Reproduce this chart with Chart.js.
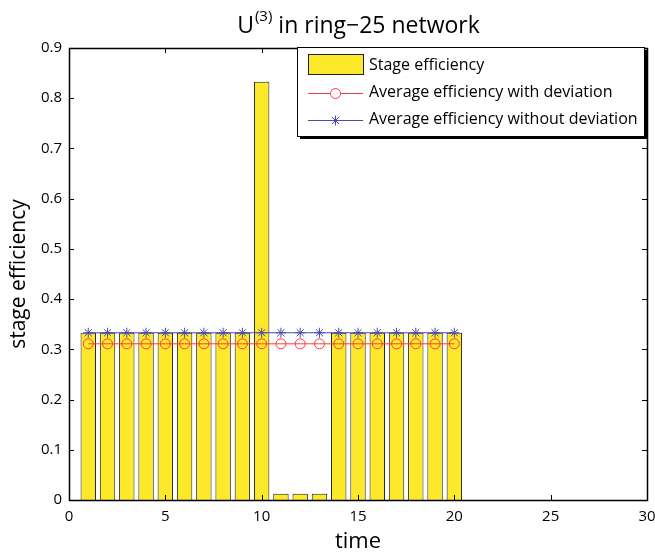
<!DOCTYPE html>
<html>
<head>
<meta charset="utf-8">
<script src="https://cdn.jsdelivr.net/npm/chart.js@4/dist/chart.umd.min.js"></script>
<style>
  body { margin: 0; background: #fff; }
  #wrap { width: 655px; height: 555px; }
</style>
</head>
<body>
<div id="wrap"><canvas id="chart" width="655" height="555"></canvas></div>
<script>
// --------------------------------------------------
//  DATA
// --------------------------------------------------
const times = [1, 2, 3, 4, 5, 6, 7, 8, 9, 10, 11, 12, 13, 14, 15, 16, 17, 18, 19, 20];
const stageEff = [0.333, 0.333, 0.333, 0.333, 0.333, 0.333, 0.333, 0.333, 0.333, 0.833,
                  0.0125, 0.0125, 0.0125, 0.333, 0.333, 0.333, 0.333, 0.333, 0.333, 0.333];
const avgWithDev = [0.311, 0.311, 0.311, 0.311, 0.311, 0.311, 0.311, 0.311, 0.311, 0.311,
                    0.311, 0.311, 0.311, 0.311, 0.311, 0.311, 0.311, 0.311, 0.311, 0.311];
const avgWithoutDev = [0.333, 0.333, 0.333, 0.333, 0.333, 0.333, 0.333, 0.333, 0.333, 0.333,
                       0.333, 0.333, 0.333, 0.333, 0.333, 0.333, 0.333, 0.333, 0.333, 0.333];
const xTicks = [0, 5, 10, 15, 20, 25, 30];
const yTicks = [0, 0.1, 0.2, 0.3, 0.4, 0.5, 0.6, 0.7, 0.8, 0.9];
const seriesNames = ['Stage efficiency', 'Average efficiency with deviation', 'Average efficiency without deviation'];

const FONT = '"Open Sans", sans-serif';
const YELLOW = '#fde92a';
const RED = '#ff3b3b';
const BLUE = '#4a4ab4';

function toPoints(xs, ys) {
    return xs.map((x, i) => ({ x: x, y: ys[i] }));
}

// --------------------------------------------------
//  PLUGINS: box + inward ticks, title, legend
// --------------------------------------------------
const boxPlugin = {
    id: 'box',
    afterDatasetsDraw(chart) {
        const { ctx, chartArea: a, scales } = chart;
        ctx.save();
        ctx.strokeStyle = '#000';
        ctx.lineWidth = 1;
        ctx.beginPath();
        xTicks.forEach(v => {
            const px = Math.round(scales.x.getPixelForValue(v)) + 0.5;
            ctx.moveTo(px, a.bottom); ctx.lineTo(px, a.bottom - 5);
            ctx.moveTo(px, a.top); ctx.lineTo(px, a.top + 5);
        });
        yTicks.forEach(v => {
            const py = Math.round(scales.y.getPixelForValue(v)) + 0.5;
            ctx.moveTo(a.left, py); ctx.lineTo(a.left + 5, py);
            ctx.moveTo(a.right, py); ctx.lineTo(a.right - 5, py);
        });
        ctx.stroke();
        ctx.lineWidth = 1.5;
        ctx.strokeRect(Math.round(a.left) + 0.5, Math.round(a.top) + 0.5,
                       Math.round(a.right - a.left), Math.round(a.bottom - a.top));
        ctx.restore();
    }
};

const titlePlugin = {
    id: 'supTitle',
    afterDraw(chart) {
        const { ctx, chartArea: a } = chart;
        const big = '23px ' + FONT;
        const small = '15px ' + FONT;
        ctx.save();
        ctx.fillStyle = '#000';
        ctx.textBaseline = 'alphabetic';
        ctx.font = big;
        const w1 = ctx.measureText('U').width;
        const w3 = ctx.measureText(' in ring\u221225 network').width;
        ctx.font = small;
        const w2 = ctx.measureText('(3)').width;
        let x = (a.left + a.right) / 2 - (w1 + w2 + w3) / 2;
        const base = 33;
        ctx.font = big;
        ctx.fillText('U', x, base);
        x += w1 + 1;
        ctx.font = small;
        ctx.fillText('(3)', x, base - 12);
        x += w2;
        ctx.font = big;
        ctx.fillText(' in ring\u221225 network', x, base);
        ctx.restore();
    }
};

const legendPlugin = {
    id: 'boxLegend',
    afterDraw(chart) {
        const { ctx } = chart;
        const L = 297, T = 47, R = 644, B = 136;
        ctx.save();
        ctx.fillStyle = '#fff';
        ctx.fillRect(L, T, R - L, B - T);
        ctx.strokeStyle = '#000';
        ctx.lineWidth = 1;
        ctx.strokeRect(L + 0.5, T + 0.5, R - L, B - T);
        ctx.lineWidth = 2;
        ctx.beginPath();
        ctx.moveTo(R + 2, T + 3); ctx.lineTo(R + 2, B + 2); ctx.lineTo(L + 3, B + 2);
        ctx.stroke();

        // bar swatch
        ctx.fillStyle = YELLOW;
        ctx.fillRect(308, 54, 55, 20);
        ctx.lineWidth = 1;
        ctx.strokeStyle = '#222';
        ctx.strokeRect(308.5, 54.5, 55, 20);

        // red line + circle
        ctx.strokeStyle = RED;
        ctx.beginPath(); ctx.moveTo(308, 93.5); ctx.lineTo(363, 93.5); ctx.stroke();
        ctx.fillStyle = '#fff';
        ctx.beginPath(); ctx.arc(335.5, 93.5, 5, 0, Math.PI * 2); ctx.fill(); ctx.stroke();

        // blue line + star
        ctx.strokeStyle = BLUE;
        ctx.beginPath(); ctx.moveTo(308, 120.5); ctx.lineTo(363, 120.5); ctx.stroke();
        ctx.beginPath();
        for (let k = 0; k < 4; k++) {
            const ang = k * Math.PI / 4;
            ctx.moveTo(335.5 - 5 * Math.cos(ang), 120.5 - 5 * Math.sin(ang));
            ctx.lineTo(335.5 + 5 * Math.cos(ang), 120.5 + 5 * Math.sin(ang));
        }
        ctx.stroke();

        ctx.fillStyle = '#000';
        ctx.font = '16px ' + FONT;
        ctx.textBaseline = 'middle';
        ctx.fillText(seriesNames[0], 369, 65);
        ctx.fillText(seriesNames[1], 369, 92);
        ctx.fillText(seriesNames[2], 369, 119);
        ctx.restore();
    }
};

// --------------------------------------------------
//  CHART
// --------------------------------------------------
const ctx = document.getElementById('chart').getContext('2d');

new Chart(ctx, {
    data: {
        datasets: [
            {
                type: 'bar',
                label: seriesNames[0],
                data: toPoints(times, stageEff),
                backgroundColor: YELLOW,
                borderColor: '#222',
                borderWidth: 1,
                categoryPercentage: 1,
                barPercentage: 0.8,
                order: 3
            },
            {
                type: 'line',
                label: seriesNames[1],
                data: toPoints(times, avgWithDev),
                borderColor: RED,
                borderWidth: 1,
                pointStyle: 'circle',
                pointRadius: 5,
                pointBorderColor: RED,
                pointBackgroundColor: 'rgba(0,0,0,0)',
                pointBorderWidth: 1,
                tension: 0,
                order: 2
            },
            {
                type: 'line',
                label: seriesNames[2],
                data: toPoints(times, avgWithoutDev),
                borderColor: BLUE,
                borderWidth: 1,
                pointStyle: 'star',
                pointRadius: 5,
                pointBorderColor: BLUE,
                pointBorderWidth: 1,
                tension: 0,
                order: 1
            }
        ]
    },
    options: {
        responsive: false,
        animation: false,
        layout: { padding: { top: 48, right: 8, left: 0, bottom: 0 } },
        plugins: {
            legend: { display: false },
            title: { display: false },
            tooltip: { enabled: false }
        },
        scales: {
            x: {
                type: 'linear',
                min: 0,
                max: 30,
                offset: false,
                afterFit: s => { s.height = 55; s.paddingLeft = 0; s.paddingRight = 0; },
                afterBuildTicks: s => { s.ticks = xTicks.map(v => ({ value: v })); },
                grid: { display: false, drawTicks: false },
                border: { display: false },
                ticks: { color: '#000', font: { family: FONT, size: 15 }, padding: 8, maxRotation: 0 },
                title: { display: true, text: 'time', color: '#000', font: { family: FONT, size: 22 }, padding: { top: 0, bottom: 0 } }
            },
            y: {
                min: 0,
                max: 0.9,
                afterFit: s => { s.width = 69; s.paddingTop = 0; s.paddingBottom = 0; },
                afterBuildTicks: s => { s.ticks = yTicks.map(v => ({ value: v })); },
                grid: { display: false, drawTicks: false },
                border: { display: false },
                ticks: { color: '#000', font: { family: FONT, size: 15 }, padding: 7,
                         callback: v => (v === 0 ? '0' : v.toFixed(1)) },
                title: { display: true, text: 'stage efficiency', color: '#000', font: { family: FONT, size: 21 }, padding: { top: 6, bottom: 0 } }
            }
        }
    },
    plugins: [boxPlugin, titlePlugin, legendPlugin]
});
</script>
</body>
</html>
